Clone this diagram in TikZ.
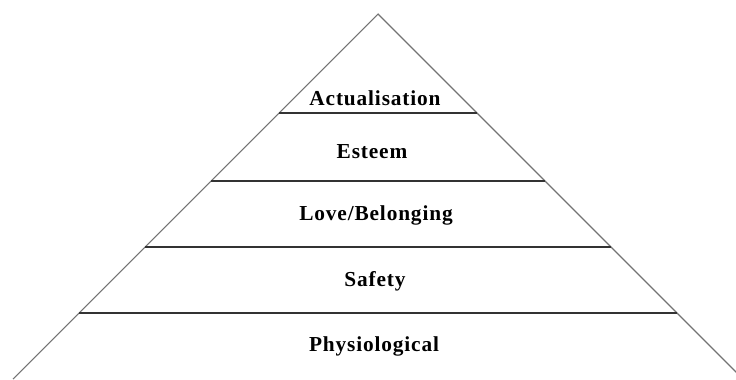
\documentclass[tikz,border=0pt]{standalone}
\usepackage{fontspec}
\setmainfont{Liberation Serif}
\newfontfamily\tierfont[LetterSpace=4]{Liberation Serif}
\usetikzlibrary{calc}

\begin{document}
\begin{tikzpicture}[
  x=0.75pt, y=-0.75pt,
  font=\tierfont\bfseries\fontsize{16}{19}\selectfont,
  sideline/.style={draw=black!55, line width=0.8pt},
  tierline/.style={draw=black!80, line width=1.1pt},
  tierlabel/.style={inner sep=0pt, anchor=base}
]
  \useasboundingbox (0,0) rectangle (736,379);
  \clip (0,0) rectangle (736,379);
  \coordinate (apex) at (378,14);
  \coordinate (baseL) at (13,379);
  \coordinate (baseR) at (743,379);
  \draw[sideline] (baseL) -- (apex) -- (baseR);
  % tier boundaries
  \foreach \tier/\ty in {act/113, est/181, love/247, safe/313} {
    \coordinate (\tier L) at ({378-(\ty-14)},\ty);
    \coordinate (\tier R) at ({378+(\ty-14)},\ty);
    \draw[tierline] (\tier L) -- (\tier R);
  }
  \node[tierlabel] (actlbl) at (375,105) {Actualisation};
  \node[tierlabel] (estlbl) at (372,158) {Esteem};
  \node[tierlabel] (lovelbl) at (376,220) {Love/Belonging};
  \node[tierlabel] (safelbl) at (375,286) {Safety};
  \node[tierlabel] (physlbl) at (374,351) {Physiological};
\end{tikzpicture}
\end{document}
